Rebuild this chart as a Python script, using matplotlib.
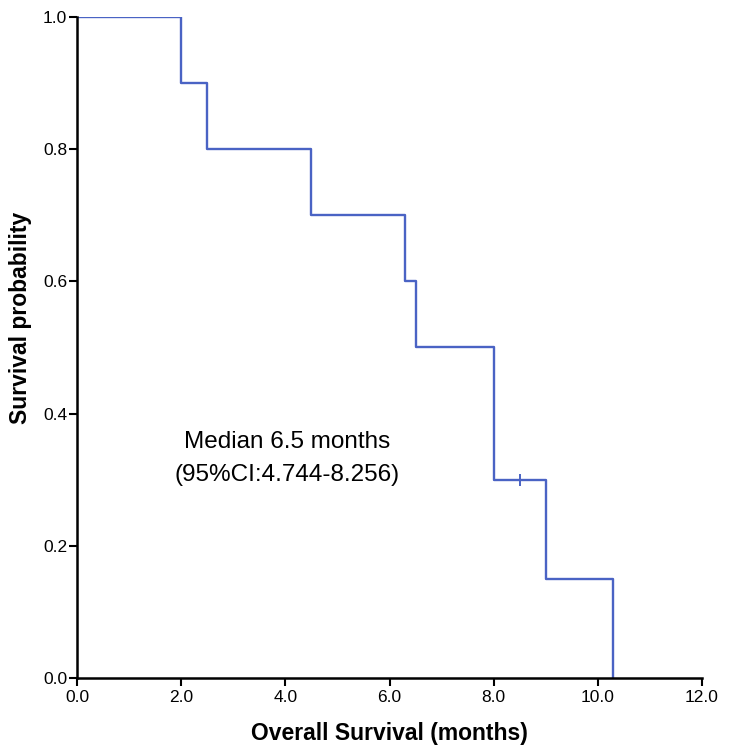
import matplotlib
matplotlib.use("Agg")
import matplotlib.pyplot as plt

# Kaplan-Meier step data
event_times = [0.0, 2.0, 2.5, 4.5, 6.3, 6.5, 8.0, 9.0, 10.3]
survival = [1.0, 0.9, 0.8, 0.7, 0.6, 0.5, 0.3, 0.15, 0.0]
censor_times = [8.5]
censor_surv = [0.3]

x_ticks = [0, 2, 4, 6, 8, 10, 12]
y_ticks = [0.0, 0.2, 0.4, 0.6, 0.8, 1.0]

plt.rcParams['font.family'] = ['Liberation Sans', 'DejaVu Sans']

fig = plt.figure(figsize=(7.35, 7.54), dpi=100)
ax = fig.add_axes([0.1048, 0.1008, 0.8503, 0.8767])

line_color = '#4a63c4'
ax.step(event_times, survival, where='post', color=line_color, lw=1.7)
ax.plot(censor_times, censor_surv, marker='|', ms=9, mew=1.4, color=line_color, ls='none')

ax.set_xlim(0, 12)
ax.set_ylim(0, 1)
ax.set_xticks(x_ticks)
ax.set_xticklabels(['%.1f' % v for v in x_ticks])
ax.set_yticks(y_ticks)
ax.set_yticklabels(['%.1f' % v for v in y_ticks])

for side in ['top', 'right']:
    ax.spines[side].set_visible(False)
for side in ['left', 'bottom']:
    ax.spines[side].set_linewidth(1.8)
ax.tick_params(axis='both', direction='out', length=6, width=1.5, labelsize=12.5, pad=1)
ax.tick_params(axis='x', pad=3)

ax.set_xlabel('Overall Survival (months)', fontsize=16.5, fontweight='bold', labelpad=12)
ax.set_ylabel('Survival probability', fontsize=16.5, fontweight='bold')
ax.yaxis.set_label_coords(-0.072, 0.545)

ax.text(4.04, 0.348, 'Median 6.5 months', ha='center', va='baseline', fontsize=17.5)
ax.text(4.04, 0.298, '(95%CI:4.744-8.256)', ha='center', va='baseline', fontsize=17.5)

fig.savefig('out.png', dpi=100)
